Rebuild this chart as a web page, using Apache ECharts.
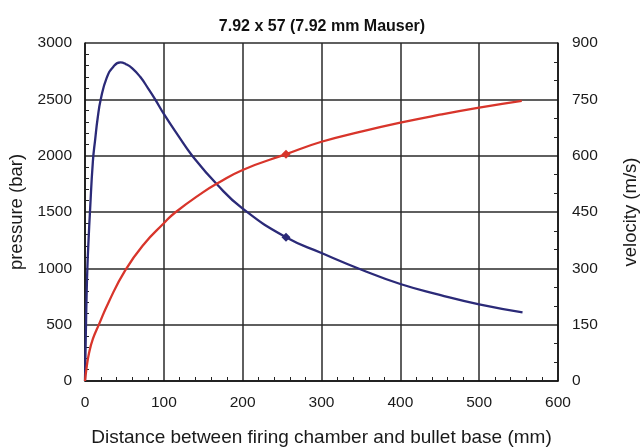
<!DOCTYPE html>
<html><head><meta charset="utf-8">
<script src="https://cdn.jsdelivr.net/npm/echarts@6/dist/echarts.min.js"></script>
<style>html,body{margin:0;padding:0;background:#fff}#c{width:644px;height:448px}</style>
</head><body><div id="c"></div>
<script>
const titleText = '7.92 x 57 (7.92 mm Mauser)';
const xName = 'Distance between firing chamber and bullet base (mm)';
const leftName = 'pressure (bar)';
const rightName = 'velocity (m/s)';

const pressureX = [0, 1, 2, 3, 4.5, 6.3, 10, 13, 16, 20, 27.5, 36, 45, 52, 60, 70, 80, 89, 100, 118, 136, 167, 200, 255, 300, 350, 400, 450, 500, 555];
const pressureY = [0, 400, 750, 1000, 1250, 1500, 1950, 2150, 2330, 2500, 2690, 2790, 2828, 2812, 2775, 2700, 2598, 2500, 2370, 2180, 2000, 1748, 1530, 1275, 1136, 990, 861, 765, 681, 610];

const velocityX = [0, 2, 5, 10, 18, 30, 50.8, 75, 100, 114, 150, 167, 200, 255, 300, 350, 400, 450, 500, 554];
const velocityY = [0, 35, 73, 112, 152, 210, 294, 365, 420, 448, 503, 525, 562, 604, 637, 664, 688, 709, 728, 746];

const markerX = 255;

function build(xs, ys){
  return xs.map((x,i)=> x===markerX ? {value:[x,ys[i]], symbol:'diamond', symbolSize:9} : {value:[x,ys[i]]});
}

const chart = echarts.init(document.getElementById('c'), null, {renderer:'canvas'});
const font = 'Liberation Sans, Arial, sans-serif';
const txt = '#1a1a1a';
const plain = v => String(v);
chart.setOption({
  animation:false,
  title:{text:titleText, left:'center', top:14, textStyle:{fontFamily:font, fontSize:16, fontWeight:'bold', color:'#111'}},
  grid:{left:85, right:86, top:43, bottom:67, containLabel:false, outerBoundsMode:'none'},
  xAxis:{type:'value', min:0, max:600, interval:100,
    name:xName, nameLocation:'middle', nameGap:47,
    nameTextStyle:{fontFamily:font, fontSize:19, color:txt},
    axisLine:{show:true, onZero:false, lineStyle:{color:'#111', width:1.5}},
    axisTick:{show:true, inside:true, length:0},
    minorTick:{show:true, splitNumber:5, length:4, lineStyle:{color:'#222', width:1}},
    axisLabel:{fontFamily:font, fontSize:15.5, color:txt, margin:14, formatter:plain},
    splitLine:{show:true, lineStyle:{color:'#2a2a2a', width:1.5}}},
  yAxis:[
    {type:'value', min:0, max:3000, interval:500, position:'left',
     name:leftName, nameLocation:'middle', nameGap:51,
     nameTextStyle:{fontFamily:font, fontSize:18.5, color:txt},
     axisLine:{show:true, onZero:false, lineStyle:{color:'#111', width:1.5}},
     axisTick:{show:true, inside:true, length:0},
     minorTick:{show:true, splitNumber:5, length:4, lineStyle:{color:'#222', width:1}},
     axisLabel:{fontFamily:font, fontSize:15.5, color:txt, margin:13, formatter:plain},
     splitLine:{show:true, lineStyle:{color:'#2a2a2a', width:1.5}}},
    {type:'value', min:0, max:900, interval:150, position:'right',
     name:rightName, nameLocation:'middle', nameGap:63,
     nameTextStyle:{fontFamily:font, fontSize:18.5, color:txt},
     axisLine:{show:true, onZero:false, lineStyle:{color:'#111', width:1.5}},
     axisTick:{show:true, inside:true, length:0},
     minorTick:{show:true, splitNumber:3, length:4, lineStyle:{color:'#222', width:1}},
     axisLabel:{fontFamily:font, fontSize:15.5, color:txt, margin:14, formatter:plain},
     splitLine:{show:false}}
  ],
  series:[
    {name:'pressure', type:'line', yAxisIndex:0, data:build(pressureX, pressureY),
     smooth:0.5, showSymbol:true, symbol:'none',
     lineStyle:{color:'#2b2a78', width:2.3}, itemStyle:{color:'#2b2a78'}},
    {name:'velocity', type:'line', yAxisIndex:1, data:build(velocityX, velocityY),
     smooth:0.5, showSymbol:true, symbol:'none',
     lineStyle:{color:'#d8352b', width:2.3}, itemStyle:{color:'#d8352b'}}
  ]
});
</script></body></html>
